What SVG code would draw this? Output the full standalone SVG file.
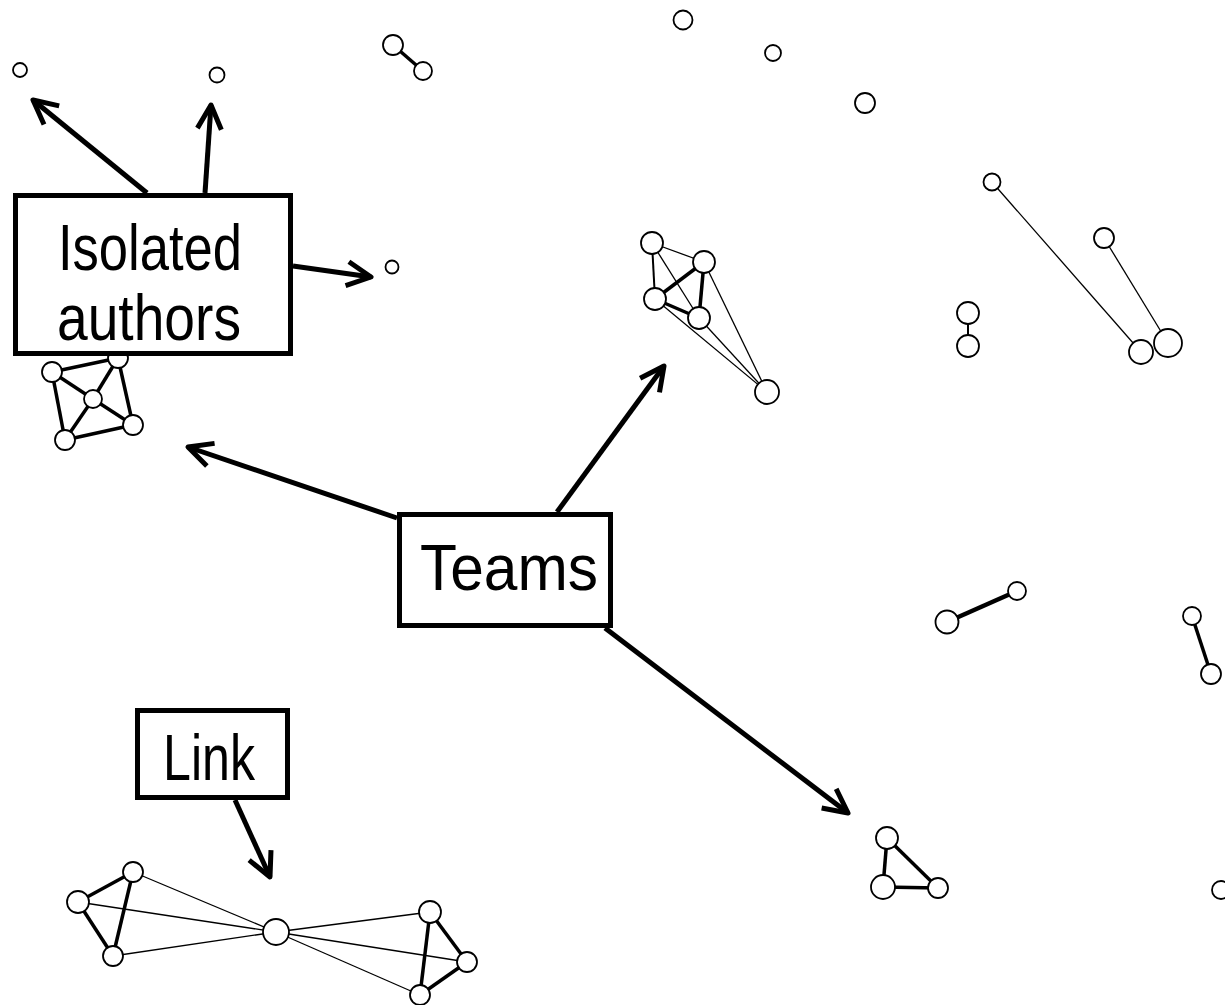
<svg xmlns="http://www.w3.org/2000/svg" width="1225" height="1005" viewBox="0 0 1225 1005">
  <defs>
    <style>
      .node { fill: #ffffff; stroke: #000000; stroke-width: 1.8; }
      .e1 { stroke: #000000; stroke-width: 1.3; fill: none; }
      .e2 { stroke: #000000; stroke-width: 2; fill: none; }
      .e3 { stroke: #000000; stroke-width: 3.5; fill: none; }
      .e4 { stroke: #000000; stroke-width: 4.5; fill: none; }
      .arrow { stroke: #000000; stroke-width: 5; fill: none; marker-end: url(#chevron); }
      .box { fill: #ffffff; stroke: #000000; stroke-width: 5; }
      .label { font-family: "Liberation Sans", Arial, sans-serif; font-size: 65px; fill: #000000; text-anchor: middle; }
    </style>
    <marker id="chevron" markerUnits="userSpaceOnUse" viewBox="-30 -16 34 32" refX="0" refY="0" markerWidth="34" markerHeight="32" orient="auto">
      <path d="M-24,-12 L0,0 L-24,12" fill="none" stroke="#000000" stroke-width="5" stroke-linecap="butt" stroke-linejoin="round"/>
    </marker>
  </defs>

  <rect x="0" y="0" width="1225" height="1005" fill="#ffffff"/>

  <!-- edges of the co-authorship graph and the pointer arrows -->
  <g id="connectors">
    <!-- pair top -->
    <line class="e3" x1="393" y1="45" x2="423" y2="71"/>
    <!-- upper team -->
    <line class="e1" x1="652" y1="243" x2="704" y2="262"/>
    <line class="e2" x1="652" y1="243" x2="655" y2="299"/>
    <line class="e1" x1="652" y1="243" x2="699" y2="318"/>
    <line class="e3" x1="704" y1="262" x2="655" y2="299"/>
    <line class="e3" x1="704" y1="262" x2="699" y2="318"/>
    <line class="e3" x1="655" y1="299" x2="699" y2="318"/>
    <line class="e1" x1="655" y1="299" x2="767" y2="392"/>
    <line class="e1" x1="699" y1="318" x2="767" y2="392"/>
    <line class="e1" x1="704" y1="262" x2="767" y2="392"/>
    <!-- right side pairs -->
    <line class="e2" x1="968" y1="313" x2="968" y2="346"/>
    <line class="e1" x1="992" y1="182" x2="1141" y2="352"/>
    <line class="e1" x1="1104" y1="238" x2="1168" y2="343"/>
    <line class="e4" x1="947" y1="622" x2="1017" y2="591"/>
    <line class="e3" x1="1192" y1="616" x2="1211" y2="674"/>
    <!-- triangle -->
    <line class="e3" x1="887" y1="838" x2="883" y2="887"/>
    <line class="e3" x1="887" y1="838" x2="938" y2="888"/>
    <line class="e3" x1="883" y1="887" x2="938" y2="888"/>
    <!-- left square team -->
    <line class="e3" x1="52" y1="372" x2="118" y2="358"/>
    <line class="e3" x1="52" y1="372" x2="65" y2="440"/>
    <line class="e3" x1="118" y1="358" x2="133" y2="425"/>
    <line class="e3" x1="65" y1="440" x2="133" y2="425"/>
    <line class="e3" x1="52" y1="372" x2="93" y2="399"/>
    <line class="e3" x1="118" y1="358" x2="93" y2="399"/>
    <line class="e3" x1="133" y1="425" x2="93" y2="399"/>
    <line class="e3" x1="65" y1="440" x2="93" y2="399"/>
    <!-- bowtie joined by a linking author -->
    <line class="e3" x1="133" y1="872" x2="78" y2="902"/>
    <line class="e3" x1="78" y1="902" x2="113" y2="956"/>
    <line class="e3" x1="133" y1="872" x2="113" y2="956"/>
    <line class="e1" x1="133" y1="872" x2="276" y2="932"/>
    <line class="e1" x1="78" y1="902" x2="276" y2="932"/>
    <line class="e1" x1="113" y1="956" x2="276" y2="932"/>
    <line class="e3" x1="430" y1="912" x2="467" y2="962"/>
    <line class="e3" x1="467" y1="962" x2="420" y2="995"/>
    <line class="e3" x1="430" y1="912" x2="420" y2="995"/>
    <line class="e1" x1="276" y1="932" x2="430" y2="912"/>
    <line class="e1" x1="276" y1="932" x2="467" y2="962"/>
    <line class="e1" x1="276" y1="932" x2="420" y2="995"/>

    <!-- pointer arrows -->
    <line class="arrow" x1="147" y1="193" x2="33" y2="100"/>
    <line class="arrow" x1="205" y1="193" x2="211" y2="105"/>
    <line class="arrow" x1="293" y1="266" x2="371" y2="277"/>
    <line class="arrow" x1="397" y1="518" x2="188" y2="447"/>
    <line class="arrow" x1="557" y1="512" x2="664" y2="366"/>
    <line class="arrow" x1="605" y1="628" x2="848" y2="813"/>
    <line class="arrow" x1="235" y1="800" x2="270" y2="877"/>
  </g>

  <!-- isolated authors -->
  <g id="iso-1"><circle class="node" cx="20" cy="70" r="7"/></g>
  <g id="iso-2"><circle class="node" cx="217" cy="75" r="7.5"/></g>
  <g id="iso-3"><circle class="node" cx="392" cy="267" r="6.5"/></g>
  <g id="iso-4"><circle class="node" cx="683" cy="20" r="9.5"/></g>
  <g id="iso-5"><circle class="node" cx="773" cy="53" r="8"/></g>
  <g id="iso-6"><circle class="node" cx="865" cy="103" r="10"/></g>
  <g id="iso-7"><circle class="node" cx="1221" cy="890" r="9"/></g>

  <!-- small pairs -->
  <g id="pair-a">
    <circle class="node" cx="393" cy="45" r="10"/>
    <circle class="node" cx="423" cy="71" r="9"/>
  </g>
  <g id="pair-b">
    <circle class="node" cx="968" cy="313" r="11"/>
    <circle class="node" cx="968" cy="346" r="11"/>
  </g>
  <g id="pair-c">
    <circle class="node" cx="992" cy="182" r="8.5"/>
    <circle class="node" cx="1141" cy="352" r="12"/>
  </g>
  <g id="pair-d">
    <circle class="node" cx="1104" cy="238" r="10"/>
    <circle class="node" cx="1168" cy="343" r="14"/>
  </g>
  <g id="pair-e">
    <circle class="node" cx="947" cy="622" r="11.5"/>
    <circle class="node" cx="1017" cy="591" r="9"/>
  </g>
  <g id="pair-f">
    <circle class="node" cx="1192" cy="616" r="9"/>
    <circle class="node" cx="1211" cy="674" r="10"/>
  </g>

  <!-- teams -->
  <g id="team-upper">
    <circle class="node" cx="652" cy="243" r="11"/>
    <circle class="node" cx="704" cy="262" r="11"/>
    <circle class="node" cx="655" cy="299" r="11"/>
    <circle class="node" cx="699" cy="318" r="11"/>
    <circle class="node" cx="767" cy="392" r="12"/>
  </g>
  <g id="team-square">
    <circle class="node" cx="52" cy="372" r="10"/>
    <circle class="node" cx="118" cy="358" r="10"/>
    <circle class="node" cx="93" cy="399" r="9"/>
    <circle class="node" cx="133" cy="425" r="10"/>
    <circle class="node" cx="65" cy="440" r="10"/>
  </g>
  <g id="team-triangle">
    <circle class="node" cx="887" cy="838" r="11"/>
    <circle class="node" cx="883" cy="887" r="12"/>
    <circle class="node" cx="938" cy="888" r="10"/>
  </g>
  <g id="team-bowtie">
    <circle class="node" cx="133" cy="872" r="10"/>
    <circle class="node" cx="78" cy="902" r="11"/>
    <circle class="node" cx="113" cy="956" r="10"/>
    <circle class="node" cx="276" cy="932" r="13"/>
    <circle class="node" cx="430" cy="912" r="11"/>
    <circle class="node" cx="467" cy="962" r="10"/>
    <circle class="node" cx="420" cy="995" r="10"/>
  </g>

  <!-- callout boxes -->
  <g id="label-isolated">
    <rect class="box" x="15.5" y="195.5" width="275" height="158"/>
    <text class="label" x="150" y="270" textLength="184" lengthAdjust="spacingAndGlyphs">Isolated</text>
    <text class="label" x="149" y="340" textLength="184" lengthAdjust="spacingAndGlyphs">authors</text>
  </g>
  <g id="label-teams">
    <rect class="box" x="399.5" y="514.5" width="211" height="111"/>
    <text class="label" x="509" y="590" textLength="178" lengthAdjust="spacingAndGlyphs">Teams</text>
  </g>
  <g id="label-link">
    <rect class="box" x="137.5" y="710.5" width="150" height="87"/>
    <text class="label" x="209" y="780" textLength="92" lengthAdjust="spacingAndGlyphs">Link</text>
  </g>
</svg>
